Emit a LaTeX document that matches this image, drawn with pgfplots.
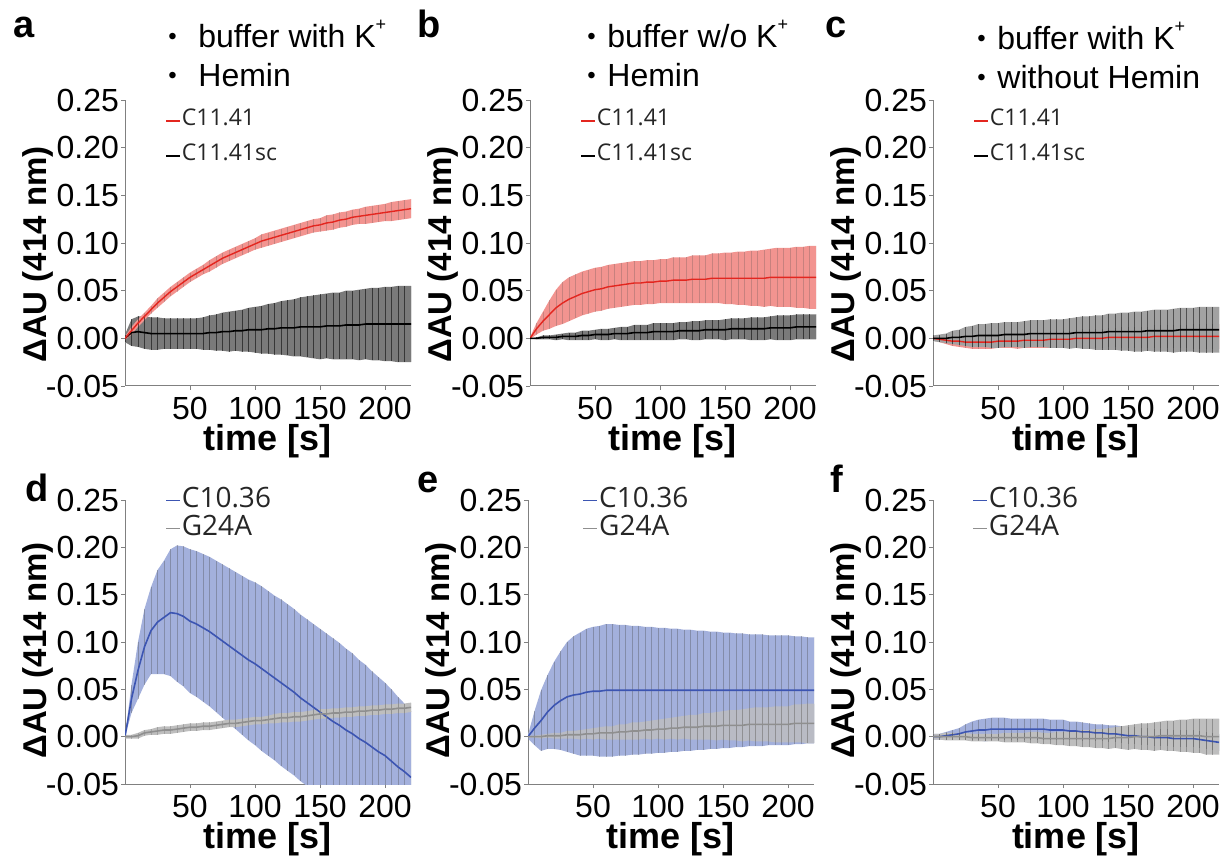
\documentclass[border=0pt]{standalone}
\usepackage{pgfplots}
\pgfplotsset{compat=1.18}
\usepackage{pgfplotstable}
\usepgfplotslibrary{fillbetween}
\usepackage{fontspec}
\setmainfont{Liberation Sans}
\newfontfamily\legfont{Open Sans}

\definecolor{redline}{HTML}{E3261F}
\definecolor{redband}{HTML}{F29490}
\definecolor{blueline}{HTML}{3C55B2}
\definecolor{blueband}{HTML}{A3B0DC}
\definecolor{grayline}{HTML}{8F8F8F}
\definecolor{grayband}{HTML}{BEBEBE}
\definecolor{darkband}{HTML}{7A7A7A}
\definecolor{hatch}{HTML}{4A4A4A}

% t, series 1 mean/err, series 2 mean/err
\pgfplotstableread{
t   m1    e1    m2    e2
0   0.000 0.002 0.000 0.004
5   0.008 0.004 0.006 0.014
10  0.016 0.004 0.007 0.016
15  0.023 0.004 0.006 0.017
20  0.030 0.004 0.005 0.017
25  0.037 0.005 0.005 0.017
30  0.043 0.005 0.005 0.016
35  0.049 0.005 0.005 0.016
40  0.054 0.005 0.005 0.016
45  0.059 0.005 0.005 0.016
50  0.064 0.005 0.005 0.016
55  0.068 0.005 0.005 0.016
60  0.072 0.005 0.005 0.017
65  0.076 0.006 0.006 0.018
70  0.080 0.006 0.006 0.019
75  0.084 0.006 0.007 0.020
80  0.087 0.006 0.007 0.021
85  0.090 0.006 0.008 0.021
90  0.093 0.006 0.008 0.022
95  0.096 0.006 0.009 0.023
100 0.099 0.006 0.009 0.024
105 0.102 0.007 0.009 0.025
110 0.104 0.007 0.010 0.026
115 0.106 0.007 0.010 0.027
120 0.108 0.007 0.011 0.028
125 0.110 0.007 0.011 0.029
130 0.112 0.007 0.011 0.030
135 0.114 0.007 0.012 0.031
140 0.116 0.007 0.012 0.032
145 0.118 0.007 0.012 0.033
150 0.119 0.007 0.012 0.034
155 0.121 0.008 0.013 0.034
160 0.122 0.008 0.013 0.035
165 0.124 0.008 0.013 0.035
170 0.125 0.008 0.014 0.036
175 0.127 0.008 0.014 0.036
180 0.128 0.008 0.014 0.037
185 0.129 0.009 0.015 0.037
190 0.130 0.009 0.015 0.038
195 0.131 0.009 0.015 0.038
200 0.132 0.009 0.015 0.039
205 0.133 0.010 0.015 0.039
210 0.134 0.010 0.015 0.040
215 0.135 0.010 0.015 0.040
220 0.136 0.010 0.015 0.040
}\tA

\pgfplotstableread{
t   m1    e1    m2    e2
0   0.000 0.001 0.000 0.000
5   0.010 0.006 0.000 0.001
10  0.018 0.010 0.001 0.002
15  0.025 0.015 0.001 0.002
20  0.032 0.019 0.001 0.003
25  0.037 0.022 0.002 0.003
30  0.041 0.023 0.002 0.004
35  0.044 0.023 0.002 0.004
40  0.047 0.023 0.003 0.005
45  0.049 0.023 0.003 0.005
50  0.051 0.023 0.004 0.005
55  0.052 0.023 0.004 0.006
60  0.054 0.023 0.004 0.006
65  0.055 0.023 0.005 0.006
70  0.056 0.023 0.005 0.007
75  0.057 0.023 0.005 0.007
80  0.058 0.023 0.006 0.008
85  0.058 0.023 0.006 0.008
90  0.059 0.023 0.006 0.008
95  0.059 0.023 0.007 0.009
100 0.060 0.023 0.007 0.009
105 0.060 0.023 0.007 0.009
110 0.061 0.024 0.007 0.009
115 0.061 0.024 0.008 0.009
120 0.061 0.024 0.008 0.009
125 0.062 0.025 0.008 0.010
130 0.062 0.025 0.008 0.010
135 0.062 0.025 0.009 0.010
140 0.063 0.026 0.009 0.010
145 0.063 0.026 0.009 0.010
150 0.063 0.027 0.009 0.011
155 0.063 0.027 0.010 0.011
160 0.063 0.028 0.010 0.011
165 0.063 0.028 0.010 0.011
170 0.063 0.029 0.010 0.012
175 0.063 0.029 0.010 0.012
180 0.063 0.030 0.010 0.012
185 0.064 0.030 0.011 0.012
190 0.064 0.031 0.011 0.013
195 0.064 0.031 0.011 0.013
200 0.064 0.031 0.011 0.013
205 0.064 0.032 0.012 0.013
210 0.064 0.032 0.012 0.013
215 0.064 0.033 0.012 0.013
220 0.064 0.033 0.012 0.013
}\tB

\pgfplotstableread{
t   m1     e1    m2    e2
0   0.000  0.002 0.000 0.003
5   -0.001 0.003 0.000 0.004
10  -0.002 0.004 0.000 0.005
15  -0.003 0.005 0.001 0.007
20  -0.003 0.006 0.001 0.008
25  -0.004 0.006 0.002 0.010
30  -0.004 0.007 0.002 0.011
35  -0.004 0.007 0.003 0.012
40  -0.004 0.007 0.003 0.012
45  -0.004 0.007 0.003 0.013
50  -0.003 0.007 0.003 0.013
55  -0.003 0.007 0.004 0.013
60  -0.003 0.007 0.004 0.013
65  -0.003 0.008 0.004 0.013
70  -0.002 0.008 0.004 0.014
75  -0.002 0.008 0.005 0.014
80  -0.002 0.008 0.005 0.014
85  -0.002 0.008 0.005 0.014
90  -0.001 0.009 0.005 0.015
95  -0.001 0.009 0.005 0.015
100 -0.001 0.009 0.005 0.015
105 -0.001 0.009 0.005 0.016
110 0.000  0.009 0.006 0.016
115 0.000  0.010 0.006 0.017
120 0.000  0.010 0.006 0.017
125 0.000  0.010 0.006 0.018
130 0.000  0.010 0.006 0.018
135 0.001  0.010 0.007 0.019
140 0.001  0.010 0.007 0.019
145 0.001  0.011 0.007 0.020
150 0.001  0.011 0.007 0.020
155 0.001  0.011 0.007 0.021
160 0.001  0.011 0.007 0.021
165 0.001  0.011 0.008 0.021
170 0.002  0.012 0.008 0.022
175 0.002  0.012 0.008 0.022
180 0.002  0.012 0.008 0.022
185 0.002  0.012 0.008 0.023
190 0.002  0.012 0.009 0.023
195 0.002  0.012 0.009 0.023
200 0.002  0.013 0.009 0.023
205 0.002  0.013 0.009 0.024
210 0.002  0.013 0.009 0.024
215 0.002  0.013 0.009 0.024
220 0.002  0.013 0.009 0.024
}\tC

\pgfplotstableread{
t   m1     e1    m2    e2
0   0.000  0.000 0.000 0.002
5   0.040  0.015 0.000 0.002
10  0.070  0.030 0.001 0.003
15  0.095  0.040 0.004 0.003
20  0.112  0.046 0.005 0.003
25  0.121  0.055 0.006 0.004
30  0.126  0.060 0.007 0.004
35  0.131  0.067 0.007 0.004
40  0.130  0.072 0.008 0.004
45  0.127  0.074 0.009 0.004
50  0.122  0.076 0.010 0.004
55  0.119  0.077 0.010 0.004
60  0.115  0.078 0.011 0.004
65  0.111  0.079 0.011 0.004
70  0.106  0.080 0.012 0.004
75  0.101  0.081 0.013 0.004
80  0.096  0.082 0.014 0.004
85  0.091  0.083 0.014 0.004
90  0.086  0.084 0.015 0.004
95  0.081  0.085 0.016 0.004
100 0.077  0.086 0.017 0.004
105 0.072  0.087 0.017 0.004
110 0.067  0.087 0.018 0.004
115 0.062  0.087 0.019 0.005
120 0.057  0.088 0.020 0.005
125 0.052  0.088 0.020 0.005
130 0.047  0.088 0.021 0.005
135 0.041  0.088 0.021 0.005
140 0.036  0.088 0.022 0.005
145 0.031  0.088 0.023 0.005
150 0.026  0.088 0.024 0.005
155 0.021  0.088 0.024 0.005
160 0.016  0.088 0.025 0.005
165 0.012  0.087 0.025 0.005
170 0.007  0.086 0.026 0.005
175 0.003  0.085 0.026 0.005
180 -0.002 0.083 0.027 0.005
185 -0.006 0.082 0.027 0.005
190 -0.011 0.080 0.028 0.005
195 -0.016 0.079 0.028 0.005
200 -0.020 0.077 0.029 0.005
205 -0.026 0.076 0.029 0.005
210 -0.032 0.074 0.030 0.005
215 -0.037 0.072 0.030 0.005
220 -0.043 0.070 0.031 0.005
}\tD

\pgfplotstableread{
t   m1    e1    m2    e2
0   0.000 0.002 0.000 0.001
5   0.009 0.018 0.000 0.001
10  0.017 0.032 0.000 0.002
15  0.026 0.039 0.001 0.002
20  0.033 0.046 0.001 0.003
25  0.038 0.052 0.001 0.003
30  0.042 0.058 0.002 0.004
35  0.044 0.062 0.002 0.004
40  0.045 0.065 0.002 0.005
45  0.047 0.067 0.003 0.005
50  0.048 0.068 0.003 0.006
55  0.048 0.069 0.004 0.006
60  0.049 0.070 0.004 0.007
65  0.049 0.070 0.004 0.007
70  0.049 0.069 0.005 0.008
75  0.049 0.069 0.005 0.008
80  0.049 0.068 0.006 0.009
85  0.049 0.068 0.006 0.009
90  0.049 0.067 0.007 0.009
95  0.049 0.067 0.007 0.010
100 0.049 0.066 0.008 0.010
105 0.049 0.066 0.008 0.011
110 0.049 0.065 0.009 0.011
115 0.049 0.065 0.009 0.012
120 0.049 0.064 0.010 0.012
125 0.049 0.064 0.010 0.013
130 0.049 0.063 0.010 0.013
135 0.049 0.063 0.011 0.014
140 0.049 0.062 0.011 0.014
145 0.049 0.062 0.011 0.015
150 0.049 0.061 0.012 0.015
155 0.049 0.061 0.012 0.016
160 0.049 0.060 0.012 0.016
165 0.049 0.060 0.012 0.017
170 0.049 0.059 0.013 0.017
175 0.049 0.059 0.013 0.018
180 0.049 0.059 0.013 0.018
185 0.049 0.058 0.013 0.018
190 0.049 0.058 0.013 0.019
195 0.049 0.058 0.013 0.019
200 0.049 0.058 0.013 0.019
205 0.049 0.057 0.014 0.020
210 0.049 0.057 0.014 0.020
215 0.049 0.056 0.014 0.021
220 0.049 0.056 0.014 0.021
}\tE

\pgfplotstableread{
t   m1     e1    m2     e2
0   0.000  0.003 0.000  0.003
5   0.000  0.003 0.000  0.003
10  0.001  0.004 0.000  0.004
15  0.002  0.005 0.000  0.004
20  0.003  0.006 0.000  0.004
25  0.005  0.008 0.000  0.004
30  0.006  0.010 -0.001 0.004
35  0.007  0.011 -0.001 0.004
40  0.007  0.012 -0.001 0.004
45  0.008  0.012 -0.001 0.004
50  0.008  0.012 -0.001 0.004
55  0.008  0.012 -0.001 0.005
60  0.008  0.011 -0.001 0.005
65  0.008  0.011 -0.001 0.005
70  0.008  0.011 -0.001 0.005
75  0.008  0.011 -0.001 0.006
80  0.008  0.011 -0.001 0.006
85  0.008  0.011 -0.002 0.006
90  0.007  0.011 -0.002 0.006
95  0.007  0.011 -0.002 0.007
100 0.007  0.011 -0.002 0.007
105 0.006  0.010 -0.002 0.008
110 0.006  0.010 -0.002 0.008
115 0.005  0.010 -0.002 0.009
120 0.005  0.009 -0.002 0.009
125 0.004  0.009 -0.002 0.010
130 0.004  0.009 -0.002 0.010
135 0.003  0.009 -0.002 0.011
140 0.003  0.009 -0.001 0.011
145 0.002  0.009 -0.001 0.012
150 0.001  0.009 -0.001 0.013
155 0.001  0.009 0.000  0.013
160 0.000  0.009 0.000  0.014
165 0.000  0.009 0.000  0.014
170 -0.001 0.009 0.000  0.015
175 -0.001 0.009 0.001  0.015
180 -0.001 0.009 0.001  0.016
185 -0.002 0.009 0.001  0.016
190 -0.002 0.009 0.001  0.017
195 -0.002 0.009 0.001  0.017
200 -0.002 0.009 0.001  0.018
205 -0.003 0.009 0.001  0.018
210 -0.004 0.009 0.000  0.019
215 -0.005 0.009 0.000  0.019
220 -0.006 0.009 0.000  0.019
}\tF

% band (mean +- err) with vertical error bars over it
% #1 table, #2 mean col, #3 err col, #4 band colour, #5 bar colour, #6 bar opacity, #7 path name
\newcommand{\band}[7]{%
  \addplot[draw=none, forget plot, name path=#7u] table[x=t, y expr=\thisrow{#2}+\thisrow{#3}] {#1};
  \addplot[draw=none, forget plot, name path=#7l] table[x=t, y expr=\thisrow{#2}-\thisrow{#3}] {#1};
  \addplot[fill=#4, draw=none, forget plot] fill between[of=#7u and #7l];
  \addplot[forget plot, mark=none, draw opacity=0,
    error bars/.cd, y dir=both, y explicit, error mark=none,
    error bar style={#5, draw opacity=#6, line width=0.4pt}]
    table[x=t, y=#2, y error=#3] {#1};
}

\pgfplotsset{
  panel/.style={
    width=143pt, height=143pt, scale only axis,
    xmin=0, xmax=220, ymin=-0.05, ymax=0.25,
    axis x line=bottom, axis y line=left,
    axis line style={-, gray, line width=0.5pt},
    xtick={50,100,150,200}, xticklabels={50,100,150,200},
    ytick={-0.05,0,0.05,0.1,0.15,0.2,0.25},
    yticklabels={-0.05,0.00,0.05,0.10,0.15,0.20,0.25},
    tick align=outside, major tick length=2pt,
    tick style={gray, line width=0.4pt},
    tick label style={font=\fontsize{16}{16}\selectfont},
    yticklabel style={xshift=2.5pt},
    xlabel={time [s]}, ylabel={ΔAU (414 nm)},
    xlabel style={font=\bfseries\fontsize{18}{18}\selectfont,
      at={(axis description cs:0.5,0)}, anchor=center, yshift=-27.5pt},
    ylabel style={font=\bfseries\fontsize{16.5}{16.5}\selectfont,
      at={(axis description cs:-0.225,0.46)}, anchor=south},
    legend cell align=left,
    legend image code/.code={\draw[##1, line width=0.7pt] (0pt,0pt) -- (7pt,0pt);},
  },
  top/.style={legend style={draw=none, fill=none, anchor=north west, inner sep=0pt,
    row sep=7.5pt, text=black!85,
    font=\legfont\fontsize{11.5}{11.5}\selectfont,
    nodes={inner sep=0.5pt, text height=7pt, text depth=2pt}}},
  bot/.style={legend style={draw=none, fill=none, anchor=north west, inner sep=0pt,
    row sep=0pt, text=black!85,
    font=\legfont\fontsize{14}{14}\selectfont,
    nodes={inner sep=0.5pt, text height=10pt, text depth=3pt}}},
}

\newcommand{\cond}{\fontsize{16}{16}\selectfont}
\newcommand{\Kp}{K\raisebox{0.55em}{\fontsize{9}{9}\selectfont +}}
\newcommand{\bul}{{\fontsize{12}{12}\selectfont •}}

\begin{document}
\begin{tikzpicture}

% a
\begin{axis}[panel, top, at={(62.5pt,235.5pt)}, reverse legend,
  legend style={at={(axis description cs:0.14,0.963)}}]
\band{\tA}{m2}{e2}{darkband}{black}{0.55}{ka}
\band{\tA}{m1}{e1}{redband}{hatch}{0.25}{ra}
\addplot[black, line width=0.8pt, mark=none] table[x=t, y=m2] {\tA};
\addlegendentry{C11.41sc}
\addplot[redline, line width=0.7pt, mark=none] table[x=t, y=m1] {\tA};
\addlegendentry{C11.41}
\end{axis}

% b
\begin{axis}[panel, top, at={(265pt,235.5pt)},
  legend style={at={(axis description cs:0.175,0.963)}}]
\band{\tB}{m1}{e1}{redband}{hatch}{0.25}{rb}
\band{\tB}{m2}{e2}{darkband}{black}{0.55}{kb}
\addplot[redline, line width=0.7pt, mark=none] table[x=t, y=m1] {\tB};
\addlegendentry{C11.41}
\addplot[black, line width=0.8pt, mark=none] table[x=t, y=m2] {\tB};
\addlegendentry{C11.41sc}
\end{axis}

% c
\begin{axis}[panel, top, at={(466.5pt,235.5pt)},
  legend style={at={(axis description cs:0.14,0.963)}}]
\band{\tC}{m1}{e1}{redband}{hatch}{0.25}{rc}
\addplot[redline, line width=0.7pt, mark=none] table[x=t, y=m1] {\tC};
\addlegendentry{C11.41}
\band{\tC}{m2}{e2}{darkband!70}{black}{0.5}{kc}
\addplot[black, line width=0.8pt, mark=none] table[x=t, y=m2] {\tC};
\addlegendentry{C11.41sc}
\end{axis}

% d
\begin{axis}[panel, bot, at={(62.5pt,36.5pt)}, height=142pt,
  ylabel style={at={(axis description cs:-0.225,0.47)}},
  legend style={at={(axis description cs:0.14,1.049)}}]
\band{\tD}{m1}{e1}{blueband}{hatch}{0.35}{bd}
\addplot[blueline, line width=0.8pt, mark=none] table[x=t, y=m1] {\tD};
\addlegendentry{C10.36}
\band{\tD}{m2}{e2}{grayband}{grayline}{0.6}{gd}
\addplot[grayline, line width=0.8pt, mark=none] table[x=t, y=m2] {\tD};
\addlegendentry{G24A}
\end{axis}

% e
\begin{axis}[panel, bot, at={(264pt,36.5pt)}, height=142pt,
  ylabel style={at={(axis description cs:-0.225,0.47)}},
  legend style={at={(axis description cs:0.19,1.049)}}]
\band{\tE}{m1}{e1}{blueband}{hatch}{0.35}{be}
\addplot[blueline, line width=0.8pt, mark=none] table[x=t, y=m1] {\tE};
\addlegendentry{C10.36}
\band{\tE}{m2}{e2}{grayband!80!blueband}{grayline}{0.5}{ge}
\addplot[grayline, line width=0.8pt, mark=none] table[x=t, y=m2] {\tE};
\addlegendentry{G24A}
\end{axis}

% f
\begin{axis}[panel, bot, at={(466.5pt,36.5pt)}, height=142pt,
  ylabel style={at={(axis description cs:-0.225,0.47)}},
  legend style={at={(axis description cs:0.137,1.049)}}]
\band{\tF}{m1}{e1}{blueband}{hatch}{0.35}{bf}
\addplot[blueline, line width=0.8pt, mark=none] table[x=t, y=m1] {\tF};
\addlegendentry{C10.36}
\band{\tF}{m2}{e2}{grayband}{hatch}{0.4}{gf}
\addplot[grayline, line width=0.8pt, mark=none] table[x=t, y=m2] {\tF};
\addlegendentry{G24A}
\end{axis}

% panel letters
\begin{scope}[every node/.style={anchor=base west, inner sep=0pt, font=\bfseries\fontsize{19}{19}\selectfont}]
\node at (6.5pt,409.5pt) {a};
\node at (208.5pt,409.5pt) {b};
\node at (412.5pt,409.5pt) {c};
\node at (12.5pt,177.5pt) {d};
\node at (208.5pt,182pt) {e};
\node at (415pt,182pt) {f};
\end{scope}

% conditions
\begin{scope}[every node/.style={anchor=base west, inner sep=0pt, font=\cond}]
\node at (84pt,406pt) {\bul};
\node at (99pt,404.5pt) {buffer with \Kp};
\node at (84pt,386.5pt) {\bul};
\node at (99pt,385pt) {Hemin};
\node at (293.5pt,406pt) {\bul};
\node at (303.5pt,404.5pt) {buffer w/o \Kp};
\node at (293.5pt,386.5pt) {\bul};
\node at (303.5pt,385pt) {Hemin};
\node at (488.5pt,405pt) {\bul};
\node at (498.5pt,403.5pt) {buffer with \Kp};
\node at (488.5pt,385.5pt) {\bul};
\node at (498.5pt,384pt) {without Hemin};
\end{scope}

\pgfresetboundingbox
\useasboundingbox (0,0) rectangle (610pt,428.5pt);
\end{tikzpicture}
\end{document}
